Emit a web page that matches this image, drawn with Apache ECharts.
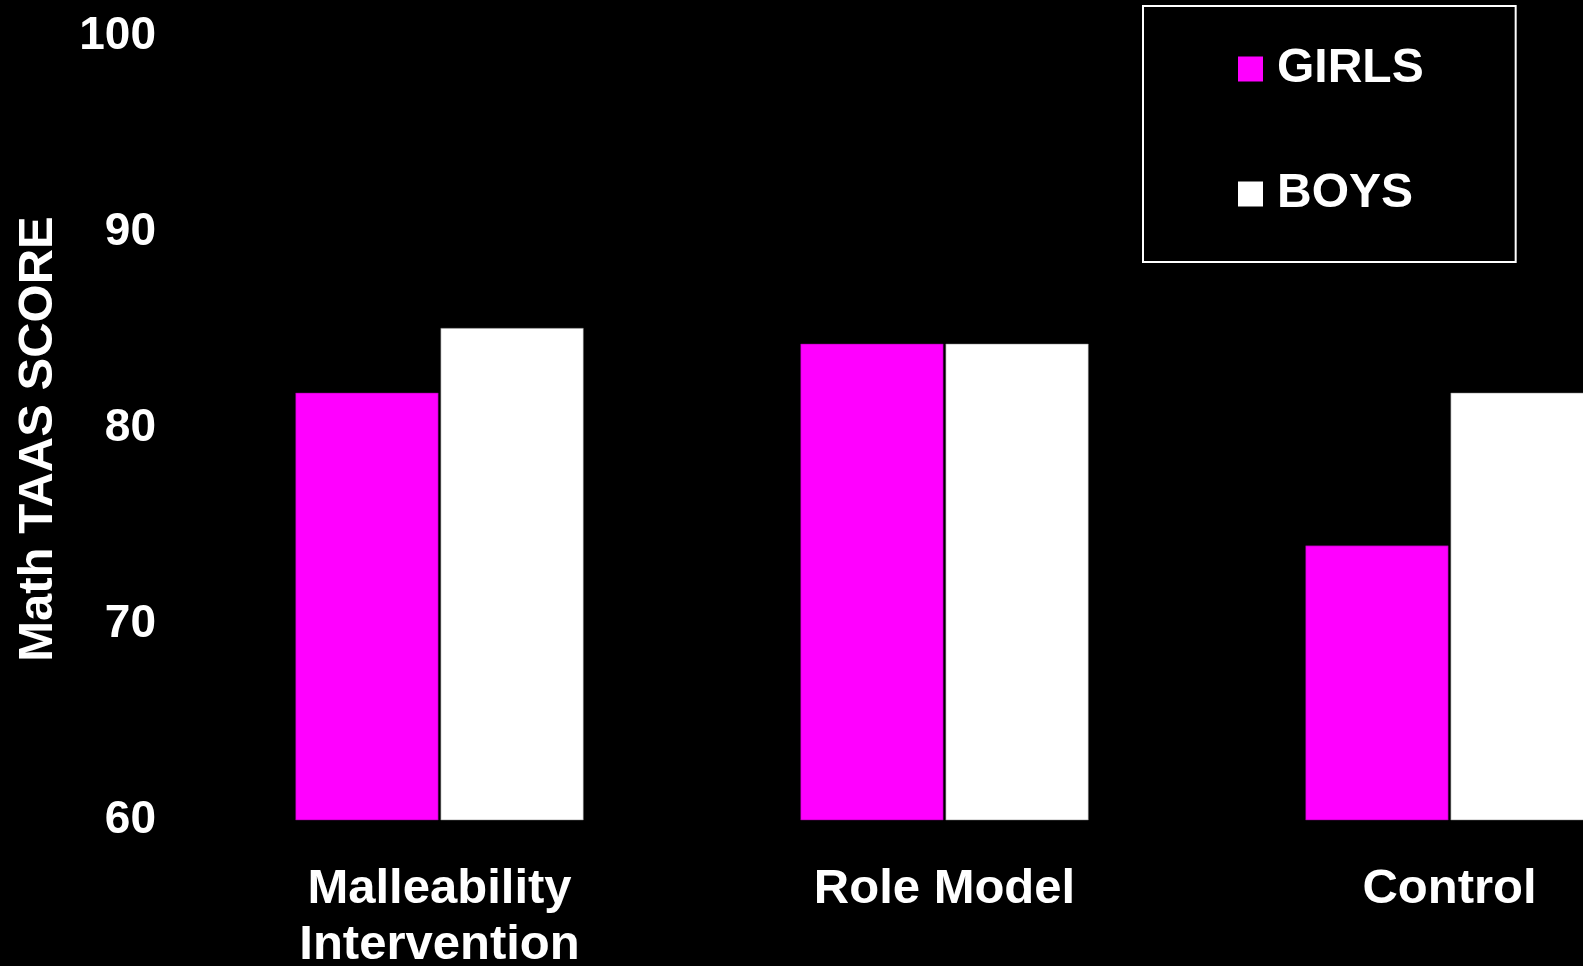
<!DOCTYPE html>
<html>
<head>
    <meta charset="UTF-8">
    <title>Math TAAS SCORE</title>
    <script type="text/javascript" src="https://cdn.jsdelivr.net/npm/echarts@6/dist/echarts.min.js"></script>
    <style>
        html, body { margin: 0; padding: 0; background: #000; }
    </style>
</head>
<body>
<div id="main" style="width: 1583px;height:966px;"></div>
<script type="text/javascript">
    // data
    var categories = ['Malleability\nIntervention', 'Role Model', 'Control'];
    var girls = [81.8, 84.3, 74.0];
    var boys = [85.1, 84.3, 81.8];
    var yTicks = {min: 60, max: 100, interval: 10};

    var font = '"Liberation Sans", Arial, Helvetica, sans-serif';
    var myChart = echarts.init(document.getElementById('main'));

    var option = {
        backgroundColor: '#000000',
        animation: false,
        textStyle: {fontFamily: font, fontWeight: 'bold', color: '#fff'},
        legend: {
            orient: 'vertical',
            left: 1143,
            top: 6,
            padding: [38, 92, 43, 95],
            itemGap: 75,
            itemWidth: 25,
            itemHeight: 25,
            borderColor: '#ffffff',
            borderWidth: 2,
            icon: 'rect',
            itemStyle: {borderWidth: 0},
            textStyle: {
                color: '#fff', fontSize: 48, fontWeight: 'bold', fontFamily: font,
                lineHeight: 50, padding: [0, 0, 0, 9]
            },
            data: ['GIRLS', 'BOYS']
        },
        // the last group runs past the right edge, as in the original slide
        grid: {
            left: 187,
            width: 1515,
            top: 36,
            bottom: 146,
            containLabel: false,
            outerBoundsMode: 'none'
        },
        xAxis: {
            type: 'category',
            data: categories,
            axisLine: {show: false},
            axisTick: {show: false},
            axisLabel: {
                color: '#fff', fontSize: 49, fontWeight: 'bold', fontFamily: font,
                lineHeight: 56, margin: 41, interval: 0
            }
        },
        yAxis: {
            type: 'value',
            min: yTicks.min,
            max: yTicks.max,
            interval: yTicks.interval,
            name: 'Math TAAS SCORE',
            nameLocation: 'middle',
            nameRotate: 90,
            nameGap: 124,
            nameTextStyle: {
                color: '#fff', fontSize: 49, fontWeight: 'bold', fontFamily: font,
                padding: [0, 22, 0, 0]
            },
            axisLine: {show: false},
            axisTick: {show: false},
            splitLine: {show: false},
            axisLabel: {
                color: '#fff', fontSize: 46, fontWeight: 'bold', fontFamily: font, margin: 31
            }
        },
        series: [
            {
                name: 'GIRLS',
                type: 'bar',
                data: girls,
                barWidth: 143,
                barGap: '1.5%',
                itemStyle: {color: '#ff00ff', borderColor: '#7a007a', borderWidth: 0.5}
            },
            {
                name: 'BOYS',
                type: 'bar',
                data: boys,
                barWidth: 143,
                barGap: '1.5%',
                itemStyle: {color: '#ffffff', borderColor: '#777777', borderWidth: 0.5}
            }
        ]
    };

    myChart.setOption(option);
</script>
</body>
</html>
